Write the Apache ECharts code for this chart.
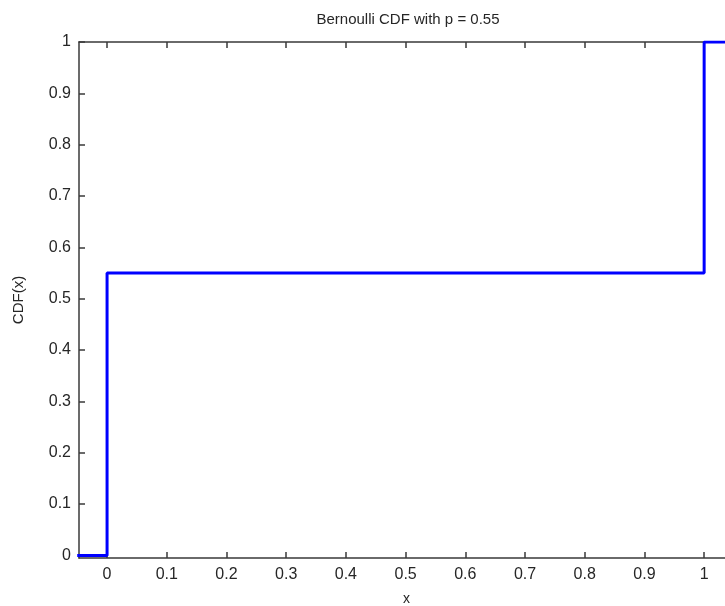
<!DOCTYPE html>
<html>
<head>
<meta charset="utf-8">
<script src="https://cdn.jsdelivr.net/npm/echarts@6/dist/echarts.min.js"></script>
<style>html,body{margin:0;padding:0;background:#fff;}#c{width:725px;height:606px;}</style>
</head>
<body>
<div id="c"></div>
<script>
var titleText = 'Bernoulli CDF with p = 0.55';
var xName = 'x';
var yName = 'CDF(x)';
// step points (x, CDF) drawn with step:'end'
var stepX = [-0.05, 0, 1, 1.05];
var stepY = [0, 0.55, 1, 1];
var xTicks = [0, 0.1, 0.2, 0.3, 0.4, 0.5, 0.6, 0.7, 0.8, 0.9, 1];
var yTicks = [0, 0.1, 0.2, 0.3, 0.4, 0.5, 0.6, 0.7, 0.8, 0.9, 1];

var font = 'Liberation Sans, Arial, sans-serif';
var axisColor = '#3a3a3a';
var textColor = '#262626';

function fmt(v) { return String(Math.round(v * 10) / 10); }

var chart = echarts.init(document.getElementById('c'), null, {renderer: 'canvas'});
var baseX = {
  type: 'value', min: -0.047, max: 1.05,
  axisLine: {show: true, onZero: false, lineStyle: {color: axisColor, width: 1.5}},
  axisTick: {show: true, inside: true, length: 6, customValues: xTicks, lineStyle: {color: axisColor, width: 1.5}},
  splitLine: {show: false}
};
var baseY = {
  type: 'value', min: -0.005, max: 1,
  axisLine: {show: true, onZero: false, lineStyle: {color: axisColor, width: 1.5}},
  axisTick: {show: true, inside: true, length: 6, customValues: yTicks, lineStyle: {color: axisColor, width: 1.5}},
  splitLine: {show: false}
};
chart.setOption({
  backgroundColor: '#ffffff',
  animation: false,
  title: {
    text: titleText, left: 403, top: 7, textAlign: 'center',
    textStyle: {fontFamily: font, fontSize: 15, fontWeight: 'normal', color: textColor}
  },
  grid: {left: 79, top: 42, width: 655, bottom: 48, containLabel: false, outerBoundsMode: 'none'},
  xAxis: [
    Object.assign({}, baseX, {
      position: 'bottom', name: xName, nameLocation: 'middle', nameGap: 34,
      nameTextStyle: {fontFamily: font, fontSize: 14, color: textColor},
      axisLabel: {show: true, customValues: xTicks, formatter: fmt, margin: 9,
        fontFamily: font, fontSize: 16, color: textColor}
    }),
    Object.assign({}, baseX, {position: 'top', axisLabel: {show: false}})
  ],
  yAxis: [
    Object.assign({}, baseY, {
      position: 'left', name: yName, nameLocation: 'middle', nameGap: 53,
      nameTextStyle: {fontFamily: font, fontSize: 15, color: textColor},
      axisLabel: {show: true, customValues: yTicks, formatter: fmt, margin: 8,
        fontFamily: font, fontSize: 16, color: textColor}
    }),
    Object.assign({}, baseY, {position: 'right', axisLabel: {show: false}})
  ],
  series: [{
    type: 'line',
    step: 'end',
    xAxisIndex: 0, yAxisIndex: 0,
    data: stepX.map(function (x, i) { return [x, stepY[i]]; }),
    showSymbol: false,
    clip: true,
    lineStyle: {color: '#0000ff', width: 3},
    itemStyle: {color: '#0000ff'}
  }]
});
</script>
</body>
</html>
